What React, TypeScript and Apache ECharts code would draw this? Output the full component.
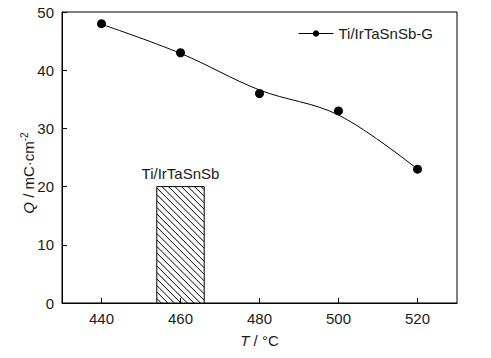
import React, { useEffect, useRef } from "react";
import * as echarts from "echarts";

// measured points (markers)
const temps = [440, 460, 480, 500, 520];
const charge = [48, 43, 36, 33, 23];
// fitted curve
const fitTemps = [440, 460, 480, 500, 520];
const fitCharge = [47.9, 42.9, 36.6, 32.3, 23.0];
const xTickLabels = [440, 460, 480, 500, 520];
const barName = "Ti/IrTaSnSb";
const barTemp = [460];
const barCharge = [20];
const barHalfWidth = 6;
const lineName = "Ti/IrTaSnSb-G";

const FONT = "'Liberation Sans', Arial, sans-serif";
const TXT = "#1a1a1a";

export default function App() {
  const ref = useRef<HTMLDivElement>(null);
  useEffect(() => {
    if (!ref.current) return;
    document.body.style.margin = "0";
    const chart = echarts.init(ref.current, undefined, { renderer: "svg" });
    const option: any = {
      animation: false,
      backgroundColor: "#fff",
      textStyle: { fontFamily: FONT },
      grid: {
        left: 62, right: 34, top: 12, bottom: 55,
        show: true, borderColor: "#000", borderWidth: 1, backgroundColor: "transparent",
      },
      legend: {
        data: [{ name: lineName }],
        left: 293, top: 21,
        itemWidth: 35, itemHeight: 8, itemGap: 3,
        lineStyle: { color: "#000", width: 1, opacity: 1 },
        textStyle: { fontSize: 15, color: TXT, fontFamily: FONT },
      },
      xAxis: {
        type: "value", min: 430, max: 530, interval: 10,
        axisLine: { lineStyle: { color: "#000", width: 1 } },
        axisTick: { show: false },
        splitLine: { show: false },
        axisLabel: {
          fontSize: 15, color: TXT, margin: 8, fontFamily: FONT,
          formatter: (v: number) => (xTickLabels.includes(v) ? String(v) : ""),
        },
        name: "{i|T} / °C",
        nameLocation: "middle", nameGap: 30,
        nameTextStyle: {
          fontSize: 15, color: TXT, fontFamily: FONT,
          rich: { i: { fontStyle: "italic", fontSize: 15, color: TXT, fontFamily: FONT } },
        },
      },
      yAxis: {
        type: "value", min: 0, max: 50, interval: 10,
        axisLine: { show: true, lineStyle: { color: "#000", width: 1 } },
        axisTick: { show: true, inside: true, length: 5, lineStyle: { color: "#000" } },
        splitLine: { show: false },
        axisLabel: { fontSize: 15, color: TXT, margin: 8, fontFamily: FONT },
        name: "{i|Q} / mC·cm{sup|-2}",
        nameLocation: "middle", nameGap: 25, nameRotate: 90,
        nameMoveOverlap: false,
        nameTextStyle: {
          fontSize: 15, color: TXT, fontFamily: FONT, padding: [0, 0, 0, -31],
          rich: {
            i: { fontStyle: "italic", fontSize: 15, color: TXT, fontFamily: FONT },
            sup: { fontSize: 10, color: TXT, fontFamily: FONT, verticalAlign: "top", padding: [0, 0, 8, 0] },
          },
        },
      },
      series: [
        {
          type: "custom",
          name: barName,
          silent: true,
          data: barTemp.map((t, i) => [t, barCharge[i]]),
          renderItem: (params: any, api: any) => {
            const t = api.value(0);
            const q = api.value(1);
            const p0 = api.coord([t - barHalfWidth, q]);
            const p1 = api.coord([t + barHalfWidth, 0]);
            const x0 = p0[0], y0 = p0[1], x1 = p1[0], y1 = p1[1];
            const children: any[] = [
              { type: "rect", shape: { x: x0, y: y0, width: x1 - x0, height: y1 - y0 }, style: { fill: "#fff", stroke: "none" } },
            ];
            const step = 6.5;
            for (let c = y0 - x1 + step / 2; c < y1 - x0; c += step) {
              const xs = Math.max(x0, y0 - c);
              const xe = Math.min(x1, y1 - c);
              if (xe > xs) {
                children.push({
                  type: "line",
                  shape: { x1: xs, y1: xs + c, x2: xe, y2: xe + c },
                  style: { stroke: "#000", lineWidth: 1 },
                });
              }
            }
            children.push({
              type: "rect", shape: { x: x0, y: y0, width: x1 - x0, height: y1 - y0 },
              style: { fill: "none", stroke: "#000", lineWidth: 1 },
            });
            children.push({
              type: "text", x: (x0 + x1) / 2, y: y0 - 6,
              style: { text: barName, fontSize: 15, fill: TXT, fontFamily: FONT, align: "center", verticalAlign: "bottom" },
            });
            return { type: "group", children };
          },
          z: 2,
        },
        {
          type: "custom",
          name: "ticks",
          silent: true,
          data: xTickLabels.map((v) => [v, 0]),
          renderItem: (params: any, api: any) => {
            const p = api.coord([api.value(0), 0]);
            return {
              type: "line",
              shape: { x1: p[0], y1: p[1], x2: p[0], y2: p[1] - 5 },
              style: { stroke: "#000", lineWidth: 1 },
            };
          },
          z: 3,
        },
        {
          type: "line",
          name: "fit",
          data: fitTemps.map((t, i) => [t, fitCharge[i]]),
          smooth: 0.35,
          symbol: "none",
          silent: true,
          lineStyle: { color: "#000", width: 1 },
          z: 4,
        },
        {
          type: "line",
          name: lineName,
          data: temps.map((t, i) => [t, charge[i]]),
          symbol: "circle",
          symbolSize: 9,
          itemStyle: { color: "#000" },
          lineStyle: { color: "#000", width: 0, opacity: 0 },
          z: 5,
        },
      ],
    };
    chart.setOption(option);
    return () => chart.dispose();
  }, []);
  return <div ref={ref} style={{ width: 491, height: 358 }} />;
}
